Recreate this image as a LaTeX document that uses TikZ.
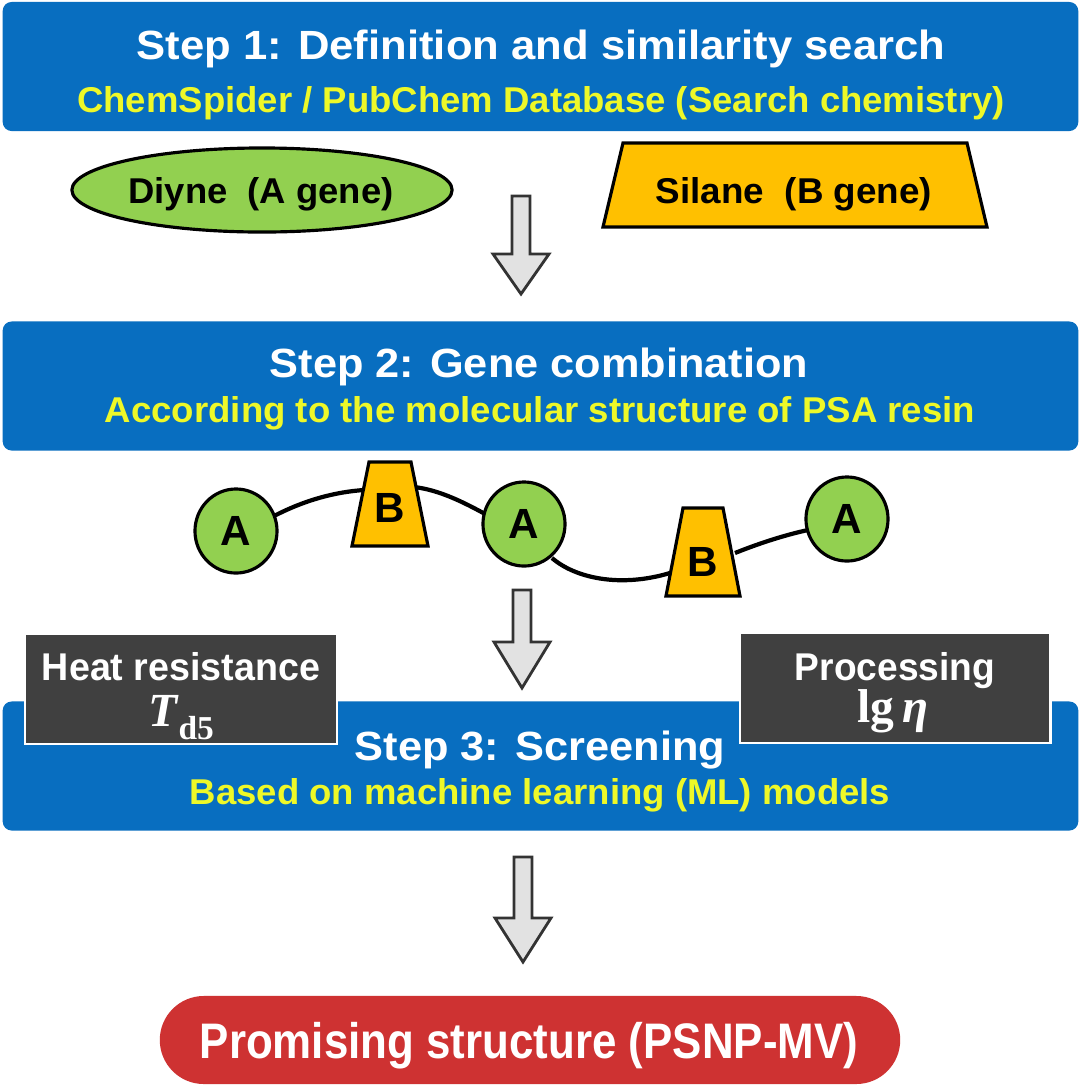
\documentclass[tikz,border=0pt]{standalone}
\usepackage{fontspec}
\setmainfont{Liberation Sans}
\newfontfamily\tnr{Liberation Serif}
\usetikzlibrary{shapes.geometric}
\definecolor{stepblue}{RGB}{8,110,192}
\definecolor{subyellow}{RGB}{238,248,40}
\definecolor{genegreen}{RGB}{146,208,80}
\definecolor{geneorange}{RGB}{255,192,0}
\definecolor{darkbox}{RGB}{64,64,64}
\definecolor{resred}{RGB}{206,50,50}
\definecolor{arrowgray}{RGB}{226,226,226}
\newcommand\fitw[2]{\resizebox{#1cm}{\height}{#2}}
\newcommand\blockarrow[4]{% x, top y, head base y, tip y
  \filldraw[fill=arrowgray,draw=black!80,line width=0.8pt,line join=miter]
    (#1-9,#2) -- (#1+9,#2) -- (#1+9,#3) -- (#1+28,#3) -- (#1,#4) -- (#1-28,#3) -- (#1-9,#3) -- cycle;}
\newcommand\trapshape[5]{% cx, cy, half top, half bottom, half height
  \filldraw[fill=geneorange,draw=black,line width=0.9pt,line join=miter]
    (#1-#3,#2+#5) -- (#1+#3,#2+#5) -- (#1+#4,#2-#5) -- (#1-#4,#2-#5) -- cycle;}
\begin{document}
\begin{tikzpicture}[x=0.01cm,y=0.01cm,
  stepbox/.style={fill=stepblue,draw=none,rounded corners=0.09cm,minimum width=10.75cm,minimum height=1.29cm,inner sep=0pt},
  titletext/.style={text=white,font=\bfseries\fontsize{11.6}{13}\selectfont,anchor=base,inner sep=0pt},
  subtext/.style={text=subyellow,font=\bfseries\fontsize{10.2}{12}\selectfont,anchor=base,inner sep=0pt},
  genetext/.style={text=black,font=\bfseries\fontsize{10.2}{12}\selectfont,anchor=base,inner sep=0pt},
  anode/.style={ellipse,draw=black,line width=0.9pt,fill=genegreen,minimum width=0.82cm,minimum height=0.84cm,inner sep=0pt,font=\bfseries\fontsize{12}{14}\selectfont},
  btext/.style={text=black,inner sep=0pt,font=\bfseries\fontsize{12}{14}\selectfont},
  propbox/.style={fill=darkbox,draw=white,line width=0.8pt,minimum height=1.1cm,inner sep=0pt},
  proptext/.style={text=white,font=\bfseries\fontsize{11}{13}\selectfont,anchor=base,inner sep=0pt},
  chain/.style={draw=black,line width=1.2pt}
]
\useasboundingbox (0,0) rectangle (1080,-1087);
\fill[white] (0,0) rectangle (1080,-1087);

% Step 1
\node[stepbox] (s1) at (540.5,-66.5) {};
\node[titletext] (s1t) at (541,-59) {\fitw{8.08}{Step 1: Definition and similarity search}};
\node[subtext] (s1s) at (541,-112) {\fitw{9.27}{ChemSpider / PubChem Database (Search chemistry)}};

% genes
\filldraw[fill=genegreen,draw=black,line width=0.9pt] (262,-190) ellipse [x radius=1.9cm,y radius=0.42cm];
\node[genetext] (diyne) at (261,-203) {\fitw{2.65}{Diyne\ \ (A gene)}};
\trapshape{795}{-185}{172}{192}{42}
\node[genetext] (silane) at (794,-203) {\fitw{2.76}{Silane\ \ (B gene)}};

\blockarrow{521}{-196}{-254}{-294}

% Step 2
\node[stepbox] (s2) at (540.5,-386) {};
\node[titletext] (s2t) at (539,-377) {\fitw{5.38}{Step 2: Gene combination}};
\node[subtext] (s2s) at (540,-422) {\fitw{8.70}{According to the molecular structure of PSA resin}};

% chain
\draw[chain] (274,-516) .. controls (305,-500) and (335,-492) .. (364,-490);
\draw[chain] (414,-487) .. controls (440,-490) and (465,-503) .. (487,-515);
\draw[chain] (552,-558) .. controls (575,-578) and (620,-588) .. (670,-573);
\draw[chain] (735,-553) .. controls (760,-543) and (785,-535) .. (808,-530);
\node[anode] (a1) at (236,-531) {A};
\trapshape{390}{-504}{21}{38}{42}
\node[btext] (b1) at (390,-508) {B};
\node[anode] (a2) at (524,-524) {A};
\trapshape{703}{-552}{20}{37}{44}
\node[btext] (b2) at (703,-562) {B};
\node[anode] (a3) at (847,-519) {A};

\blockarrow{522}{-590}{-642}{-688}

% Step 3
\node[stepbox] (s3) at (540.5,-766) {};
\node[propbox,minimum width=3.12cm] (heat) at (181,-689) {};
\node[propbox,minimum width=3.10cm] (proc) at (895,-688) {};
\node[proptext] (heatt) at (181,-680) {\fitw{2.78}{Heat resistance}};
\node[text=white,anchor=base,inner sep=0pt,font=\fontsize{13.5}{15}\selectfont] (td5) at (181,-726) {\tnr\bfseries\itshape T\/\raisebox{-0.28em}{\upshape\fontsize{9.5}{10}\selectfont d5}};
\node[proptext] (proct) at (895,-680) {\fitw{2.00}{Processing}};
\node[text=white,anchor=base,inner sep=0pt,font=\fontsize{13.5}{15}\selectfont] (lgeta) at (893,-722) {\tnr\bfseries lg\,{\itshape η}};
\node[titletext] (s3t) at (540,-760) {\fitw{3.70}{Step 3: Screening}};
\node[subtext] (s3s) at (540,-804) {\fitw{7.00}{Based on machine learning (ML) models}};

\blockarrow{523}{-857}{-918}{-962}

% result
\node[fill=resred,draw=none,rounded corners=0.44cm,minimum width=7.40cm,minimum height=0.88cm,inner sep=0pt] (res) at (530,-1040) {};
\node[text=white,font=\bfseries\fontsize{14.2}{16}\selectfont,anchor=base,inner sep=0pt] (rest) at (529,-1058) {\fitw{6.58}{Promising structure (PSNP-MV)}};
\end{tikzpicture}
\end{document}
